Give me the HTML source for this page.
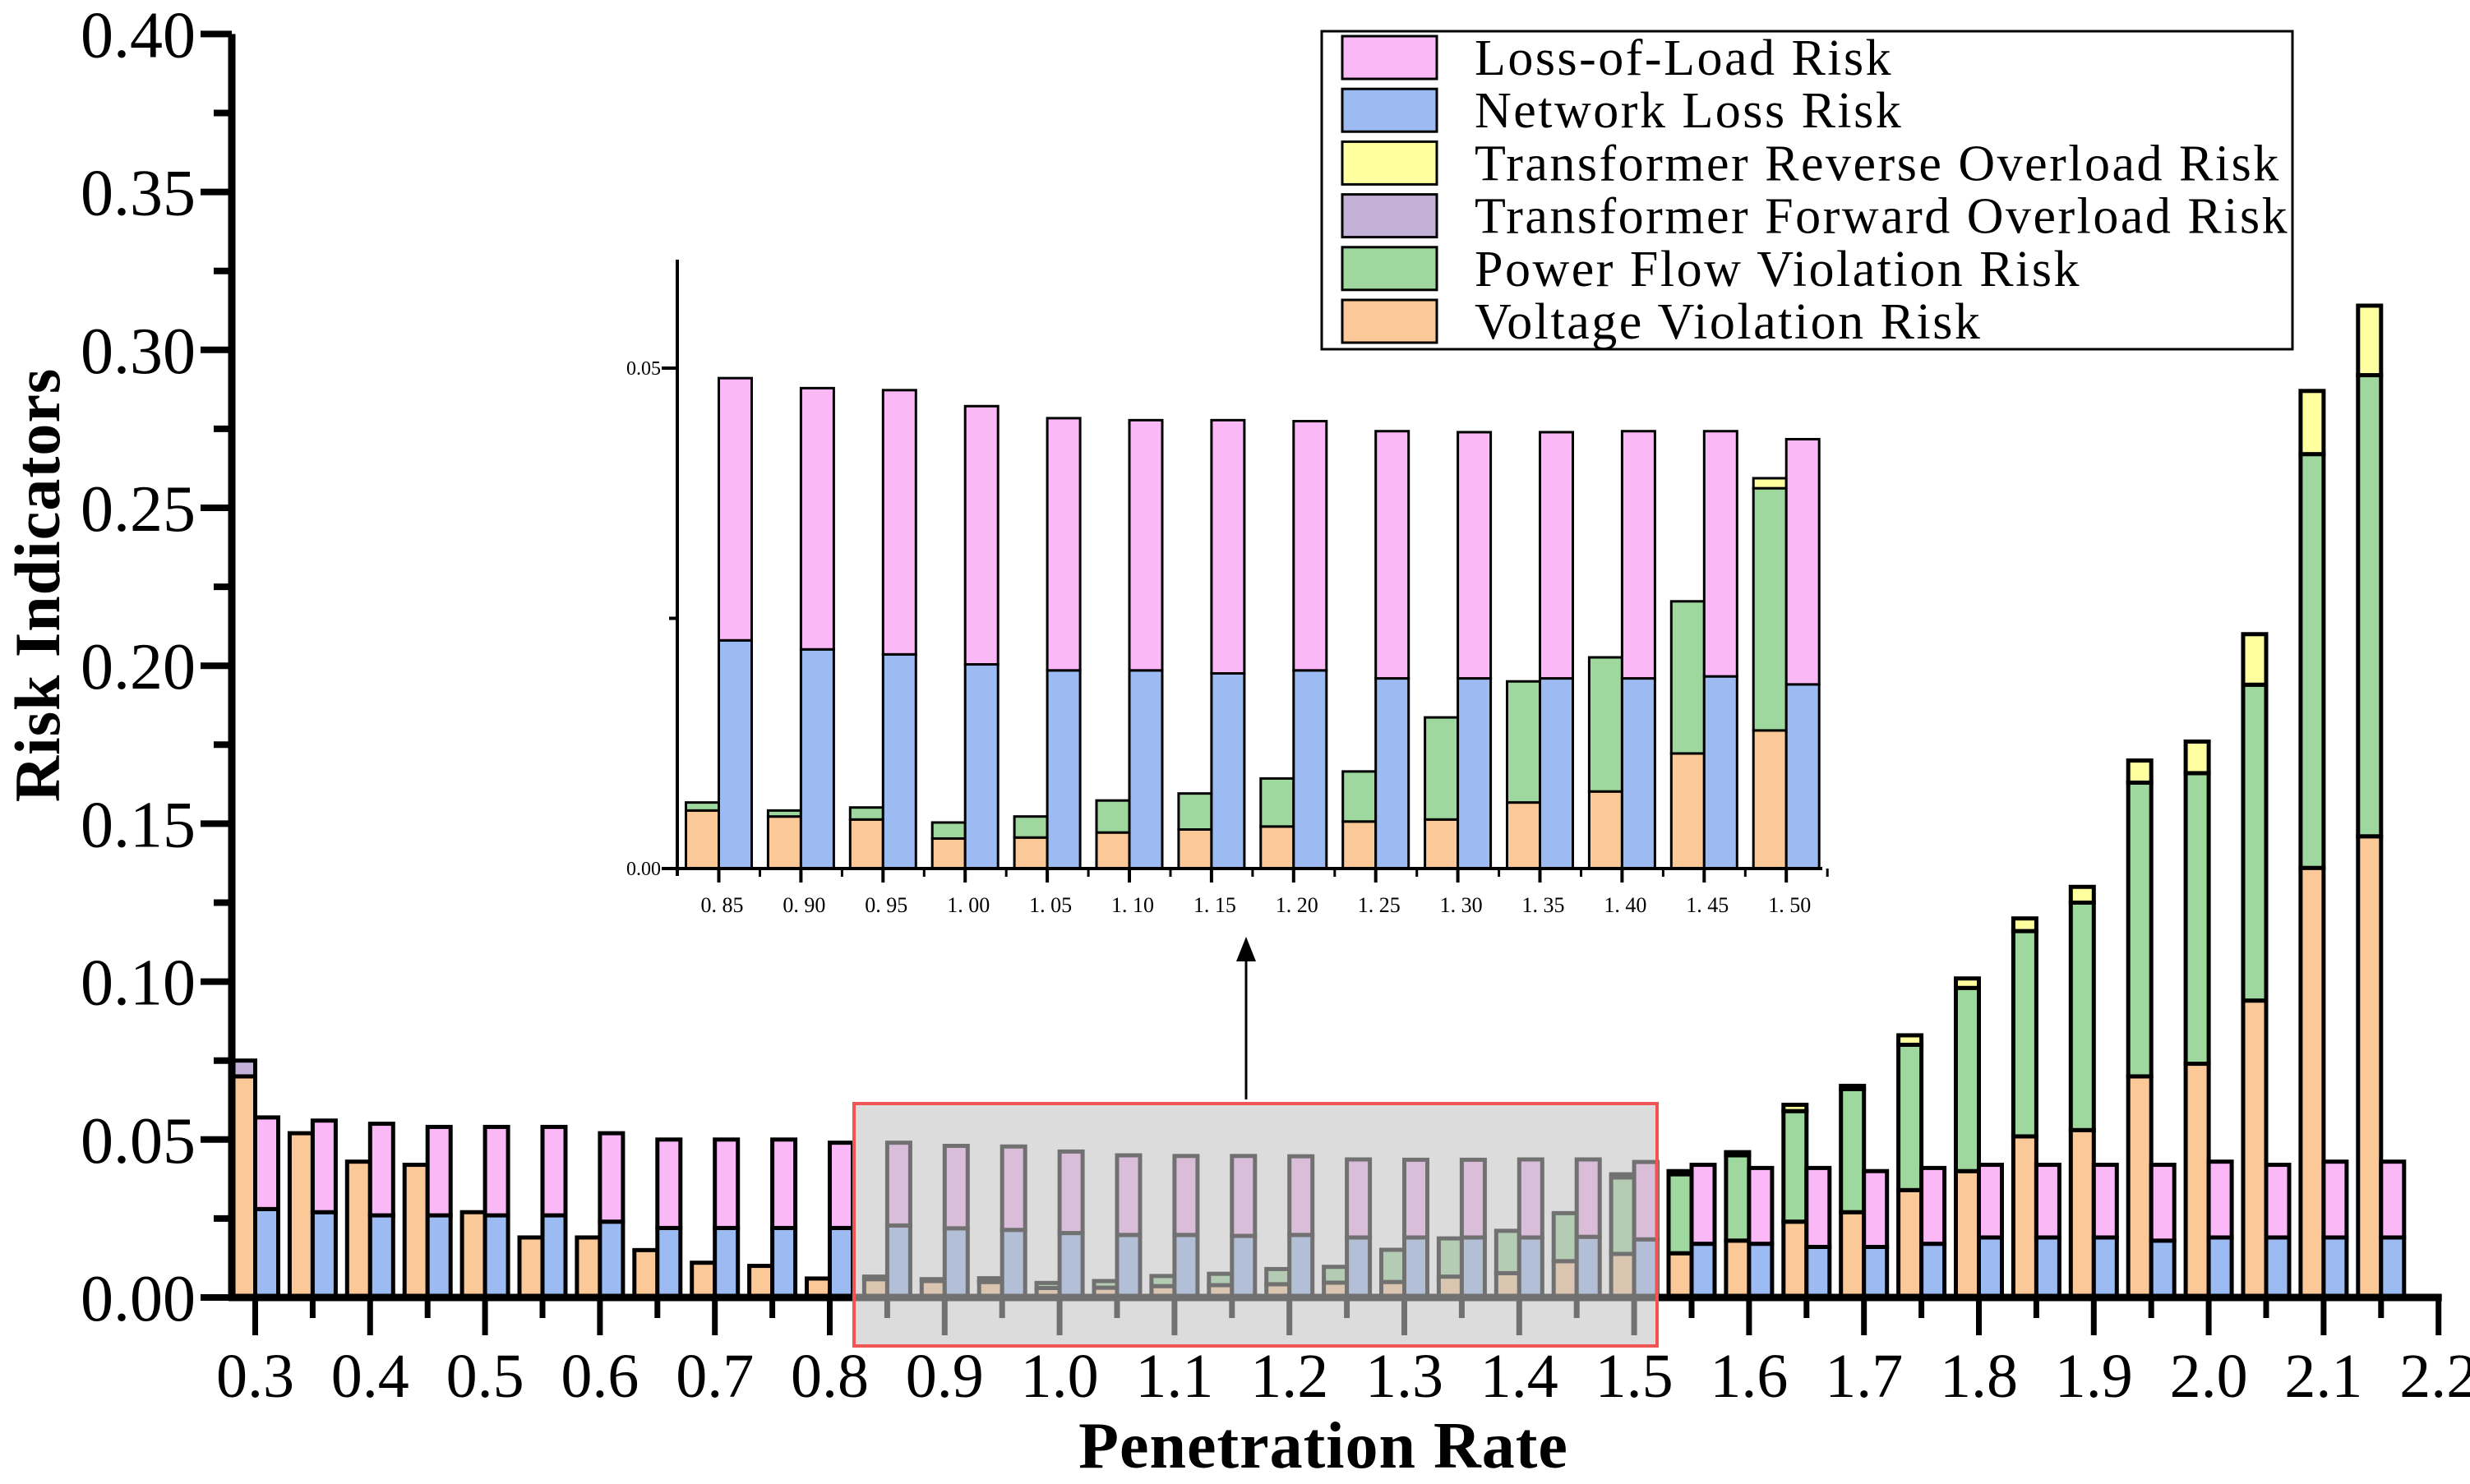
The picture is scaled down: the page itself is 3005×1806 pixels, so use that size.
<!DOCTYPE html>
<html><head><meta charset="utf-8"><style>
html,body{margin:0;padding:0;background:#fff}
svg{display:block}
text{font-family:"Liberation Serif",serif;fill:#000}
</style></head><body>
<svg id="chart" width="3005" height="1806" viewBox="0 0 3005 1806" xmlns="http://www.w3.org/2000/svg">
<g id="main"></g>
<g id="overlay"></g>
<g id="inset"></g>
<g id="legend"></g>
</svg>
<script>
const cats=[0.30,0.35,0.40,0.45,0.50,0.55,0.60,0.65,0.70,0.75,0.80,0.85,0.90,0.95,1.00,1.05,1.10,1.15,1.20,1.25,1.30,1.35,1.40,1.45,1.50,1.55,1.60,1.65,1.70,1.75,1.80,1.85,1.90,1.95,2.00,2.05,2.10,2.15];
const voltage=[.070,.052,.043,.042,.027,.019,.019,.015,.011,.010,.006,.0058,.0052,.0049,.0030,.0031,.0036,.0039,.0042,.0047,.0049,.0066,.0077,.0115,.0138,.014,.018,.024,.027,.034,.040,.051,.053,.070,.074,.094,.136,.146];
const powerFlow=[0,0,0,0,0,0,0,0,0,0,0,.0008,.0006,.0012,.0016,.0021,.0032,.0036,.0048,.0050,.0102,.0121,.0134,.0152,.0242,.025,.027,.035,.039,.046,.058,.065,.072,.093,.092,.100,.131,.146];
const reverseOL=[0,0,0,0,0,0,0,0,0,0,0,0,0,0,0,0,0,0,0,0,0,0,0,0,.001,.001,.001,.002,.001,.003,.003,.004,.005,.007,.010,.016,.020,.022];
const forwardOL=[.005,0,0,0,0,0,0,0,0,0,0,0,0,0,0,0,0,0,0,0,0,0,0,0,0,0,0,0,0,0,0,0,0,0,0,0,0,0];
const netLoss=[.028,.027,.026,.026,.026,.026,.024,.022,.022,.022,.022,.0228,.0219,.0214,.0204,.0198,.0198,.0195,.0198,.019,.019,.019,.019,.0192,.0184,.017,.017,.016,.016,.017,.019,.019,.019,.018,.019,.019,.019,.019];
const lossLoad=[.029,.029,.029,.028,.028,.028,.028,.028,.028,.028,.027,.0262,.0261,.0264,.0258,.0252,.0250,.0253,.0249,.0247,.0246,.0246,.0247,.0245,.0245,.025,.024,.025,.024,.024,.023,.023,.023,.024,.024,.023,.024,.024];
const yTicks=[0,0.05,0.10,0.15,0.20,0.25,0.30,0.35,0.40];
const yTickLabels=["0.00","0.05","0.10","0.15","0.20","0.25","0.30","0.35","0.40"];
const xTicks=[0.3,0.4,0.5,0.6,0.7,0.8,0.9,1.0,1.1,1.2,1.3,1.4,1.5,1.6,1.7,1.8,1.9,2.0,2.1,2.2];
const xTickLabels=["0.3","0.4","0.5","0.6","0.7","0.8","0.9","1.0","1.1","1.2","1.3","1.4","1.5","1.6","1.7","1.8","1.9","2.0","2.1","2.2"];
const insetStart=11, insetEnd=24;
const insetLabels=["0. 85","0. 90","0. 95","1. 00","1. 05","1. 10","1. 15","1. 20","1. 25","1. 30","1. 35","1. 40","1. 45","1. 50"];
const legendLabels=["Loss-of-Load Risk","Network Loss Risk","Transformer Reverse Overload Risk","Transformer Forward Overload Risk","Power Flow Violation Risk","Voltage Violation Risk"];

const C={pink:"#fbb8f7",blue:"#9bbbf2",yellow:"#ffffa0",purple:"#c3b1d9",green:"#9fd89e",orange:"#fbc897"};
const NS="http://www.w3.org/2000/svg";
function mk(tag,attrs,parent){const e=document.createElementNS(NS,tag);for(const k in attrs)e.setAttribute(k,attrs[k]);parent.appendChild(e);return e;}
const xs=v=>310.5+(v-0.3)*1398;
const ys=v=>1579-v*3844;
const BW=28;
const main=document.getElementById('main');

function stack(g,x0,w,segs,yf,sw,names){
  let acc=0;
  segs.forEach((s,k)=>{
    if(s[0]<=0)return;
    const y1=yf(acc),y2=yf(acc+s[0]);
    const r=mk('rect',{x:x0,y:y2,width:w,height:y1-y2,fill:s[1],stroke:'#000','stroke-width':sw},g);
    
    
    acc+=s[0];
  });
}
cats.forEach((c,i)=>{
  const x=xs(c);
  stack(main,x-BW,BW,[[voltage[i],C.orange],[powerFlow[i],C.green],[reverseOL[i],C.yellow],[forwardOL[i],C.purple]],ys,5,['voltage-bar','power-flow-bar','reverse-overload-bar','forward-overload-bar']);
  stack(main,x,BW,[[netLoss[i],C.blue],[lossLoad[i],C.pink]],ys,5,['network-loss-bar','loss-of-load-bar']);
});
let a=mk('line',{x1:282,y1:ys(0.40),x2:282,y2:1583,stroke:'#000','stroke-width':9},main);

a=mk('line',{x1:278,y1:1579,x2:xs(2.2)+4,y2:1579,stroke:'#000','stroke-width':9},main);

yTicks.forEach((v,i)=>{
  mk('line',{x1:244,y1:ys(v),x2:282,y2:ys(v),stroke:'#000','stroke-width':8},main);
  if(i<yTicks.length-1)mk('line',{x1:260,y1:ys(v+0.025),x2:282,y2:ys(v+0.025),stroke:'#000','stroke-width':8},main);
  const t=mk('text',{x:238,y:ys(v)+28,'text-anchor':'end','font-size':80},main);
  t.textContent=yTickLabels[i];
  
});
xTicks.forEach((v,i)=>{
  mk('line',{x1:xs(v),y1:1579,x2:xs(v),y2:1625,stroke:'#000','stroke-width':7},main);
  if(i<xTicks.length-1)mk('line',{x1:xs(v+0.05),y1:1579,x2:xs(v+0.05),y2:1604,stroke:'#000','stroke-width':7},main);
  const t=mk('text',{x:xs(v),y:1700,'text-anchor':'middle','font-size':76},main);
  t.textContent=xTickLabels[i];
  
});
let t=mk('text',{x:1610,y:1786,'text-anchor':'middle','font-size':80,'font-weight':'bold','letter-spacing':1},main);
t.textContent='Penetration Rate';
t=mk('text',{x:0,y:0,'text-anchor':'middle','font-size':78,'font-weight':'bold','letter-spacing':1,transform:'translate(72,712) rotate(-90)'},main);
t.textContent='Risk Indicators';

const ov=document.getElementById('overlay');
let r=mk('rect',{x:1039,y:1343,width:977,height:295,fill:'rgba(195,195,195,0.58)',stroke:'#f05555','stroke-width':4},ov);

let ar=mk('line',{x1:1516,y1:1338,x2:1516,y2:1165,stroke:'#000','stroke-width':3},ov);

mk('polygon',{points:'1516,1140 1504,1170 1528,1170',fill:'#000'},ov);

const ins=document.getElementById('inset');
const yi=v=>1057-v*12180;
const xi=k=>874.5+k*99.9;
const IW=40;
for(let i=insetStart;i<=insetEnd;i++){
  const k=i-insetStart,x=xi(k);
  stack(ins,x-IW,IW,[[voltage[i],C.orange],[powerFlow[i],C.green],[reverseOL[i],C.yellow],[forwardOL[i],C.purple]],yi,3,['inset-voltage-bar','inset-power-flow-bar','inset-reverse-overload-bar','inset-forward-overload-bar']);
  stack(ins,x,IW,[[netLoss[i],C.blue],[lossLoad[i],C.pink]],yi,3,['inset-network-loss-bar','inset-loss-of-load-bar']);
  mk('line',{x1:x,y1:1057,x2:x,y2:1074,stroke:'#000','stroke-width':4},ins);
  mk('line',{x1:x+50,y1:1057,x2:x+50,y2:1067,stroke:'#000','stroke-width':3},ins);
  const tl=mk('text',{x:x+4,y:1110,'text-anchor':'middle','font-size':26},ins);
  tl.textContent=insetLabels[k];
}
mk('line',{x1:824,y1:1066,x2:824,y2:316,stroke:'#000','stroke-width':4},ins);
mk('line',{x1:821,y1:1057,x2:2217,y2:1057,stroke:'#000','stroke-width':4},ins);
[[0,'0.00'],[0.05,'0.05']].forEach(p=>{
  mk('line',{x1:805,y1:yi(p[0]),x2:824,y2:yi(p[0]),stroke:'#000','stroke-width':4},ins);
  const tl=mk('text',{x:804,y:yi(p[0])+8,'text-anchor':'end','font-size':24},ins);
  tl.textContent=p[1];
});
mk('line',{x1:814,y1:yi(0.025),x2:824,y2:yi(0.025),stroke:'#000','stroke-width':4},ins);

const lg=document.getElementById('legend');
r=mk('rect',{x:1608,y:38,width:1181,height:387,fill:'#fff',stroke:'#000','stroke-width':3},lg);

const lcol=[C.pink,C.blue,C.yellow,C.purple,C.green,C.orange];
legendLabels.forEach((l,i)=>{
  const y=44+i*64.2;
  const s=mk('rect',{x:1633,y:y,width:115,height:52,fill:lcol[i],stroke:'#000','stroke-width':3},lg);
  
  const tx=mk('text',{x:1794,y:y+47,'font-size':62,'letter-spacing':2.5},lg);
  tx.textContent=l;
});
</script>
</body></html>
